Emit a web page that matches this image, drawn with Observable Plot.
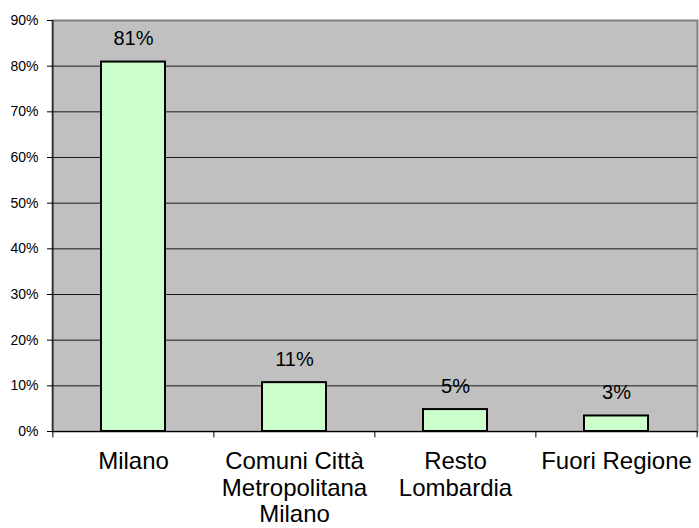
<!DOCTYPE html>
<html><head><meta charset="utf-8">
<script src="https://cdn.jsdelivr.net/npm/d3@7"></script>
<script src="https://cdn.jsdelivr.net/npm/@observablehq/plot@0.6"></script>
<style>body{margin:0;background:#fff;}</style>
</head><body><div id="chart"></div>
<script>
const categories = ["Milano", "Comuni Città Metropolitana Milano", "Resto Lombardia", "Fuori Regione"];
const tickLabels = ["Milano", "Comuni Città\nMetropolitana\nMilano", "Resto\nLombardia", "Fuori Regione"];
const values = [80.9, 10.7, 4.8, 3.4];
const valueLabels = ["81%", "11%", "5%", "3%"];
const yTicks = [0, 10, 20, 30, 40, 50, 60, 70, 80, 90];

const data = categories.map((c, i) => ({cat: c, value: values[i], label: valueLabels[i]}));
const W = 699, ML = 52, MR = 2;
const halfStep = (W - ML - MR) / categories.length / 2;

const chart = Plot.plot({
  width: W, height: 528,
  marginLeft: ML, marginRight: MR, marginTop: 20, marginBottom: 97,
  style: {fontFamily: "'Liberation Sans', Arial, sans-serif", background: "white", color: "#000"},
  x: {domain: categories, paddingInner: 0.6, paddingOuter: 0.3, axis: null, label: null},
  y: {domain: [0, 90], axis: null, label: null},
  marks: [
    Plot.frame({fill: "#c0c0c0", stroke: "#808080", strokeWidth: 2}),
    Plot.ruleY(yTicks.filter(t => t > 0 && t < 90), {stroke: "#1a1a1a"}),
    Plot.ruleY([0], {stroke: "#000"}),
    Plot.ruleX([categories[0]], {dx: -halfStep, y1: -1.4, y2: 90, stroke: "#000"}),
    Plot.ruleX(categories.slice(1), {dx: -halfStep, y1: -1.4, y2: 0, stroke: "#000"}),
    Plot.ruleX([categories[categories.length - 1]], {dx: halfStep, y1: -1.4, y2: 0, stroke: "#000"}),
    Plot.barY(data, {x: "cat", y: "value", fill: "#ccffcc", stroke: "#000", strokeWidth: 2}),
    Plot.text(data, {x: "cat", y: "value", text: "label", dy: -23, fontSize: 20}),
    Plot.axisY({ticks: yTicks, tickFormat: d => d + "%", tickSize: 5, tickPadding: 9, fontSize: 14, label: null}),
    Plot.axisX({tickSize: 0, tickPadding: 19, tickFormat: d => tickLabels[categories.indexOf(d)], fontSize: 24, lineHeight: 1.1, label: null})
  ]
});
document.getElementById("chart").append(chart);
</script>
</body></html>
